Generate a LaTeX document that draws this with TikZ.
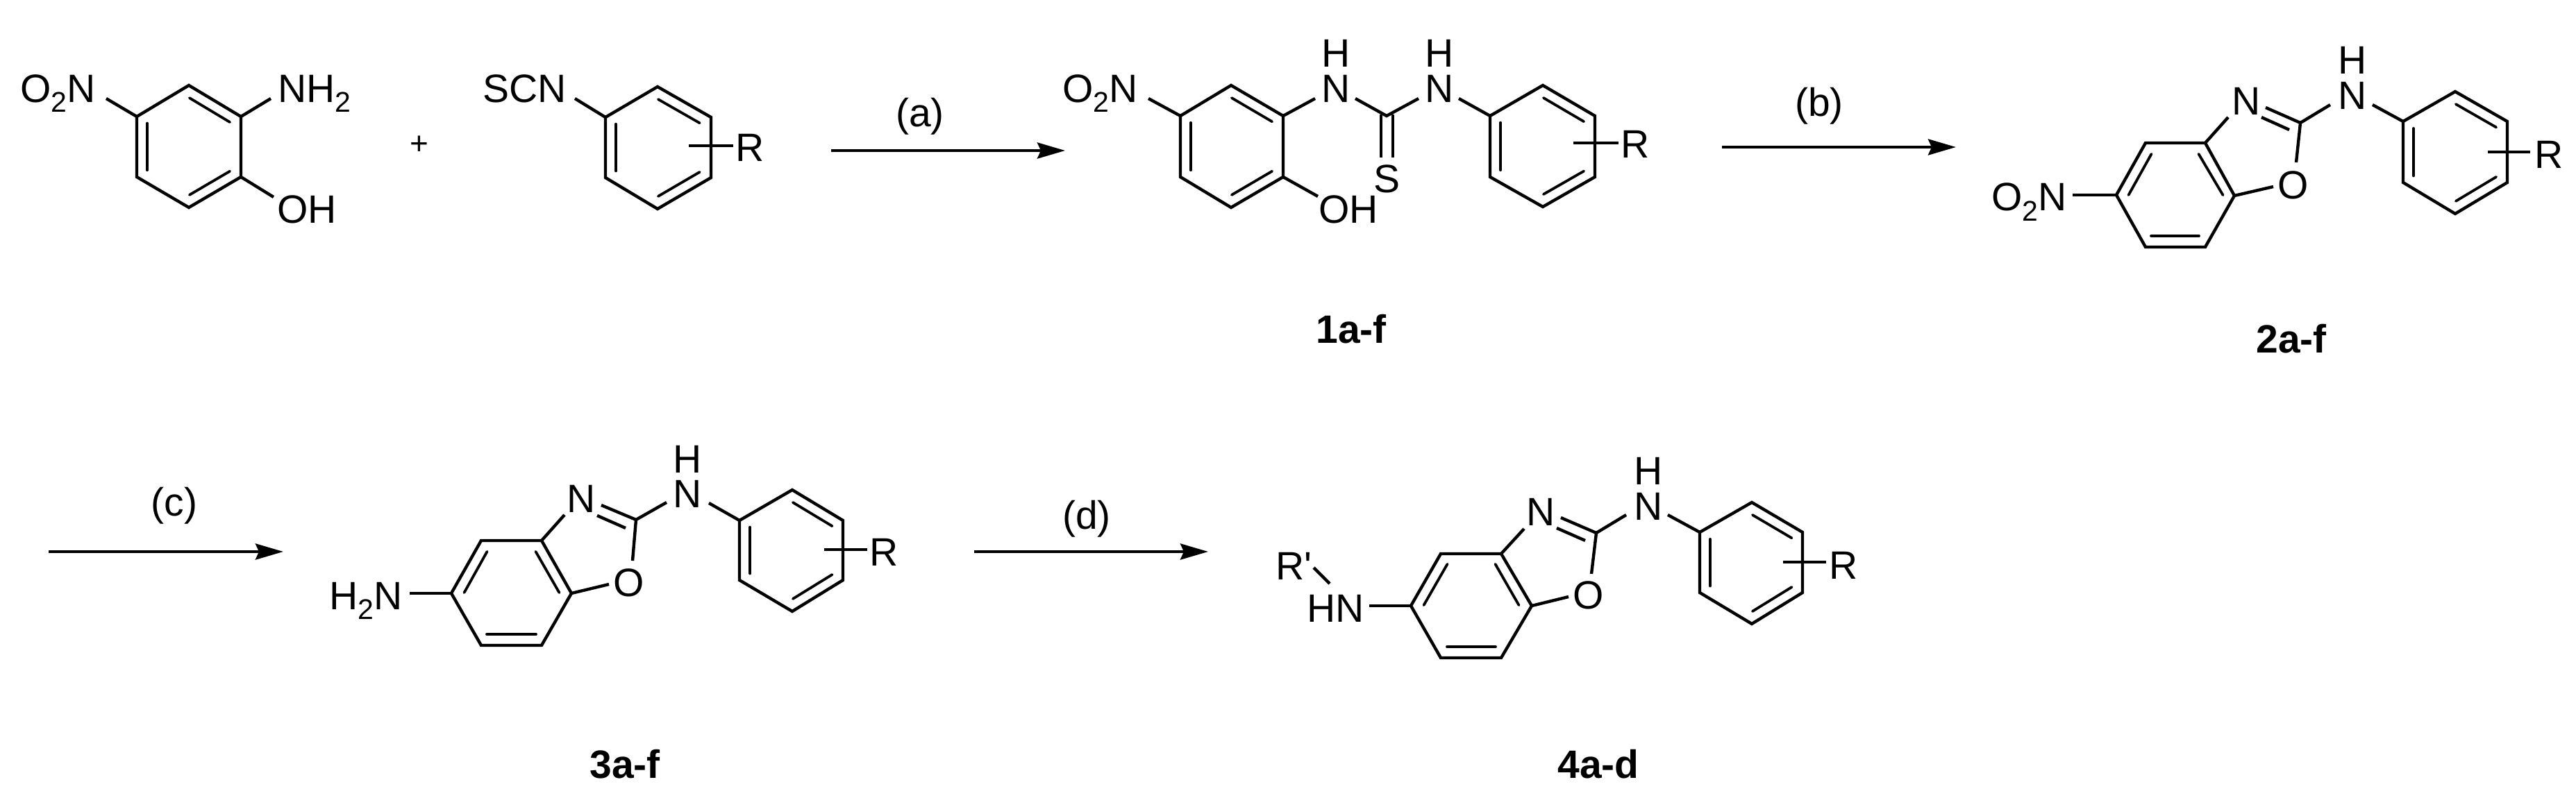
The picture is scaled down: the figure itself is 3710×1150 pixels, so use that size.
\documentclass[tikz,border=0pt]{standalone}
\usepackage{fontspec}
\newfontfamily\chemf{Liberation Sans}
\usetikzlibrary{calc,arrows.meta}
\newcommand{\chemsub}[1]{\raisebox{-14pt}{\fontsize{41}{41}\selectfont #1}}
% phenyl ring: prefix, top x, top y, right x, upper y, lower y, bottom y, left x
\newcommand{\phenyl}[8]{%
  \coordinate (#11) at (#2,#3);
  \coordinate (#12) at (#4,#5);
  \coordinate (#13) at (#4,#6);
  \coordinate (#14) at (#2,#7);
  \coordinate (#15) at (#8,#6);
  \coordinate (#16) at (#8,#5);
  \coordinate (#1c) at ($(#11)!0.5!(#14)$);
  \draw[bond] (#11) -- (#12) -- (#13) -- (#14) -- (#15) -- (#16) -- cycle;
  \draw[inner] ($(#1c)!0.8!(#11)$) -- ($(#1c)!0.8!(#12)$);
  \draw[inner] ($(#1c)!0.8!(#13)$) -- ($(#1c)!0.8!(#14)$);
  \draw[inner] ($(#1c)!0.8!(#15)$) -- ($(#1c)!0.8!(#16)$);
}
\tikzset{
  bond/.style={line width=4.4pt,line join=miter,line cap=butt},
  inner/.style={line width=3.8pt,line cap=round,shorten <=1pt,shorten >=1pt},
  lbl/.style={font=\chemf\fontsize{57}{60}\selectfont,inner sep=0pt,anchor=base west},
  ctr/.style={font=\chemf\fontsize{57}{60}\selectfont,inner sep=0pt,anchor=base},
  cmpd/.style={font=\chemf\bfseries\fontsize{57}{60}\selectfont,inner sep=0pt,anchor=base},
  rxn/.style={line width=4.4pt,-{Stealth[length=40pt,width=23pt,inset=5pt]}},
}
\begin{document}
\begin{tikzpicture}[x=1pt,y=-1pt]
\useasboundingbox (0,0) rectangle (3710,1150);
\fill[white] (0,0) rectangle (3710,1150);

% ---------- aminophenol
\phenyl{A}{272}{123}{347}{168}{255}{299}{197}
\node[lbl] (Ano) at (29,148) {O\chemsub{2}N};
\node[lbl] (Anh) at (400,148) {NH\chemsub{2}};
\node[lbl] (Aoh) at (399,322) {OH};
\coordinate (Ae1) at (153,142);
\coordinate (Ae2) at (390,142);
\coordinate (Ae3) at (394,284);
\draw[bond] (A6) -- (Ae1);
\draw[bond] (A2) -- (Ae2);
\draw[bond] (A3) -- (Ae3);

\node[font=\chemf\fontsize{46}{48}\selectfont,inner sep=0pt] (plus) at (604,209) {+};

% ---------- isothiocyanate
\phenyl{B}{947}{125}{1024}{169}{256}{301}{872}
\node[lbl] (Bscn) at (695,148) {SCN};
\node[lbl] (Br) at (1059,233) {R};
\coordinate (Be1) at (828,142);
\coordinate (Be2) at (992,210);
\coordinate (Be3) at (1056,210);
\draw[bond] (B6) -- (Be1);
\draw[bond] (Be2) -- (Be3);

% ---------- arrow a
\coordinate (a0) at (1197,217);
\coordinate (a1) at (1534,217);
\draw[rxn] (a0) -- (a1);
\node[ctr] (la) at (1325,183) {(a)};

% ---------- 1a-f
\phenyl{C}{1773}{123}{1848}{167}{255}{299}{1700}
\phenyl{D}{2222}{123}{2297}{167}{255}{298}{2146}
\node[lbl] (Cno) at (1530,148) {O\chemsub{2}N};
\node[lbl] (Cn1) at (1903,148) {N};
\node[lbl] (Ch1) at (1903,97) {H};
\node[lbl] (Cn2) at (2052,148) {N};
\node[lbl] (Ch2) at (2052,97) {H};
\node[lbl] (Cr) at (2334,228) {R};
\node[ctr] (Cs) at (1997,278) {S};
\node[lbl] (Coh) at (1899,322) {OH};
\node[cmpd] (c1) at (1946,494) {1a-f};
\coordinate (Ct) at (1997,167);
\coordinate (Ce1) at (1654,142);
\coordinate (Ce2) at (1894,142);
\coordinate (Ce3) at (1898,283);
\coordinate (Ce4) at (1952,142);
\coordinate (Ce5) at (2043,142);
\coordinate (Ce6) at (2101,142);
\coordinate (Ce7) at (2266,206);
\coordinate (Ce8) at (2331,206);
\coordinate (Cs1) at (1989,165);
\coordinate (Cs2) at (1989,227);
\coordinate (Cs3) at (2006,165);
\coordinate (Cs4) at (2006,227);
\draw[bond] (C6) -- (Ce1);
\draw[bond] (C2) -- (Ce2);
\draw[bond] (C3) -- (Ce3);
\draw[bond] (Ce4) -- (Ct) -- (Ce5);
\draw[bond] (Ce6) -- (D6);
\draw[bond] (Ce7) -- (Ce8);
\draw[bond] (Cs1) -- (Cs2);
\draw[bond] (Cs3) -- (Cs4);

% ---------- arrow b
\coordinate (b0) at (2480,212);
\coordinate (b1) at (2817,212);
\draw[rxn] (b0) -- (b1);
\node[ctr] (lb) at (2620,168) {(b)};

% ---------- 2a-f
\coordinate (E1) at (3090,206);
\coordinate (E2) at (3176,206);
\coordinate (E3) at (3218,282);
\coordinate (E4) at (3176,356);
\coordinate (E5) at (3090,356);
\coordinate (E6) at (3048,281);
\draw[bond] (E1) -- (E2) -- (E3) -- (E4) -- (E5) -- (E6) -- cycle;
\coordinate (Ei1) at (3099,221);
\coordinate (Ei2) at (3065,282);
\coordinate (Ei3) at (3166,221);
\coordinate (Ei4) at (3202,282);
\coordinate (Ei5) at (3097,340);
\coordinate (Ei6) at (3168,340);
\draw[inner] (Ei1) -- (Ei2);
\draw[inner] (Ei3) -- (Ei4);
\draw[inner] (Ei5) -- (Ei6);
\phenyl{F}{3536}{132}{3611}{175}{263}{308}{3461}
\node[lbl] (Eno) at (2868,304) {O\chemsub{2}N};
\node[lbl] (En) at (3214,166) {N};
\node[ctr] (Eo) at (3303,287) {O};
\node[lbl] (En2) at (3367,158) {N};
\node[lbl] (Eh) at (3367,107) {H};
\node[lbl] (Er) at (3650,243) {R};
\node[cmpd] (c2) at (3300,508) {2a-f};
\coordinate (Ec) at (3313,177);
\coordinate (Ee1) at (2985,281);
\coordinate (Ee2) at (3209,169);
\coordinate (Ee3) at (3263,155);
\coordinate (Ee4) at (3257,169);
\coordinate (Ee5) at (3297,187);
\coordinate (Ee6) at (3307,234);
\coordinate (Ee7) at (3274,269);
\coordinate (Ee8) at (3356,151);
\coordinate (Ee9) at (3417,151);
\coordinate (Ee10) at (3583,219);
\coordinate (Ee11) at (3644,219);
\draw[bond] (E6) -- (Ee1);
\draw[bond] (E2) -- (Ee2);
\draw[bond] (Ee3) -- (Ec) -- (Ee6);
\draw[bond] (Ee4) -- (Ee5);
\draw[bond] (E3) -- (Ee7);
\draw[bond] (Ec) -- (Ee8);
\draw[bond] (Ee9) -- (F6);
\draw[bond] (Ee10) -- (Ee11);

% ---------- arrow c
\coordinate (c0) at (70,795);
\coordinate (c1a) at (408,795);
\draw[rxn] (c0) -- (c1a);
\node[ctr] (lc) at (251,743) {(c)};

% ---------- 3a-f
\coordinate (G1) at (693,779);
\coordinate (G2) at (780,779);
\coordinate (G3) at (823,855);
\coordinate (G4) at (780,930);
\coordinate (G5) at (693,930);
\coordinate (G6) at (650,855);
\draw[bond] (G1) -- (G2) -- (G3) -- (G4) -- (G5) -- (G6) -- cycle;
\coordinate (Gi1) at (702,794);
\coordinate (Gi2) at (668,855);
\coordinate (Gi3) at (771,794);
\coordinate (Gi4) at (806,855);
\coordinate (Gi5) at (700,914);
\coordinate (Gi6) at (773,914);
\draw[inner] (Gi1) -- (Gi2);
\draw[inner] (Gi3) -- (Gi4);
\draw[inner] (Gi5) -- (Gi6);
\phenyl{H}{1141}{706}{1214}{750}{836}{881}{1065}
\node[lbl] (Gnh) at (474,878) {H\chemsub{2}N};
\node[lbl] (Gn) at (816,738) {N};
\node[ctr] (Go) at (906,859) {O};
\node[lbl] (Gn2) at (969,731) {N};
\node[lbl] (Gh) at (969,681) {H};
\node[lbl] (Gr) at (1252,815) {R};
\node[cmpd] (c3) at (900,1121) {3a-f};
\coordinate (Gc) at (916,749);
\coordinate (Ge1) at (590,855);
\coordinate (Ge2) at (813,742);
\coordinate (Ge3) at (866,728);
\coordinate (Ge4) at (860,743);
\coordinate (Ge5) at (901,761);
\coordinate (Ge6) at (911,808);
\coordinate (Ge7) at (877,842);
\coordinate (Ge8) at (960,724);
\coordinate (Ge9) at (1021,725);
\coordinate (Ge10) at (1187,792);
\coordinate (Ge11) at (1249,792);
\draw[bond] (G6) -- (Ge1);
\draw[bond] (G2) -- (Ge2);
\draw[bond] (Ge3) -- (Gc) -- (Ge6);
\draw[bond] (Ge4) -- (Ge5);
\draw[bond] (G3) -- (Ge7);
\draw[bond] (Gc) -- (Ge8);
\draw[bond] (Ge9) -- (H6);
\draw[bond] (Ge10) -- (Ge11);

% ---------- arrow d
\coordinate (d0) at (1403,795);
\coordinate (d1) at (1740,795);
\draw[rxn] (d0) -- (d1);
\node[ctr] (ld) at (1565,762) {(d)};

% ---------- 4a-d
\coordinate (J1) at (2075,798);
\coordinate (J2) at (2162,798);
\coordinate (J3) at (2206,873);
\coordinate (J4) at (2162,948);
\coordinate (J5) at (2075,948);
\coordinate (J6) at (2032,873);
\draw[bond] (J1) -- (J2) -- (J3) -- (J4) -- (J5) -- (J6) -- cycle;
\coordinate (Ji1) at (2085,812);
\coordinate (Ji2) at (2050,873);
\coordinate (Ji3) at (2153,812);
\coordinate (Ji4) at (2188,873);
\coordinate (Ji5) at (2083,932);
\coordinate (Ji6) at (2155,932);
\draw[inner] (Ji1) -- (Ji2);
\draw[inner] (Ji3) -- (Ji4);
\draw[inner] (Ji5) -- (Ji6);
\phenyl{K}{2523}{724}{2596}{767}{854}{899}{2448}
\node[lbl] (Jhn) at (1882,896) {HN};
\node[lbl] (Jrp) at (1837,835) {R'};
\node[lbl] (Jn) at (2198,757) {N};
\node[ctr] (Jo) at (2288,877) {O};
\node[lbl] (Jn2) at (2353,749) {N};
\node[lbl] (Jh) at (2353,698) {H};
\node[lbl] (Jr) at (2634,834) {R};
\node[cmpd] (c4) at (2302,1121) {4a-d};
\coordinate (Jc) at (2299,768);
\coordinate (Je1) at (1972,873);
\coordinate (Je2) at (2195,762);
\coordinate (Je3) at (2248,746);
\coordinate (Je4) at (2242,761);
\coordinate (Je5) at (2283,779);
\coordinate (Je6) at (2292,827);
\coordinate (Je7) at (2259,860);
\coordinate (Je8) at (2342,742);
\coordinate (Je9) at (2402,742);
\coordinate (Je10) at (2568,810);
\coordinate (Je11) at (2630,810);
\coordinate (Je12) at (1892,818);
\coordinate (Je13) at (1915,841);
\draw[bond] (J6) -- (Je1);
\draw[bond] (J2) -- (Je2);
\draw[bond] (Je3) -- (Jc) -- (Je6);
\draw[bond] (Je4) -- (Je5);
\draw[bond] (J3) -- (Je7);
\draw[bond] (Jc) -- (Je8);
\draw[bond] (Je9) -- (K6);
\draw[bond] (Je10) -- (Je11);
\draw[bond] (Je12) -- (Je13);
\end{tikzpicture}
\end{document}
